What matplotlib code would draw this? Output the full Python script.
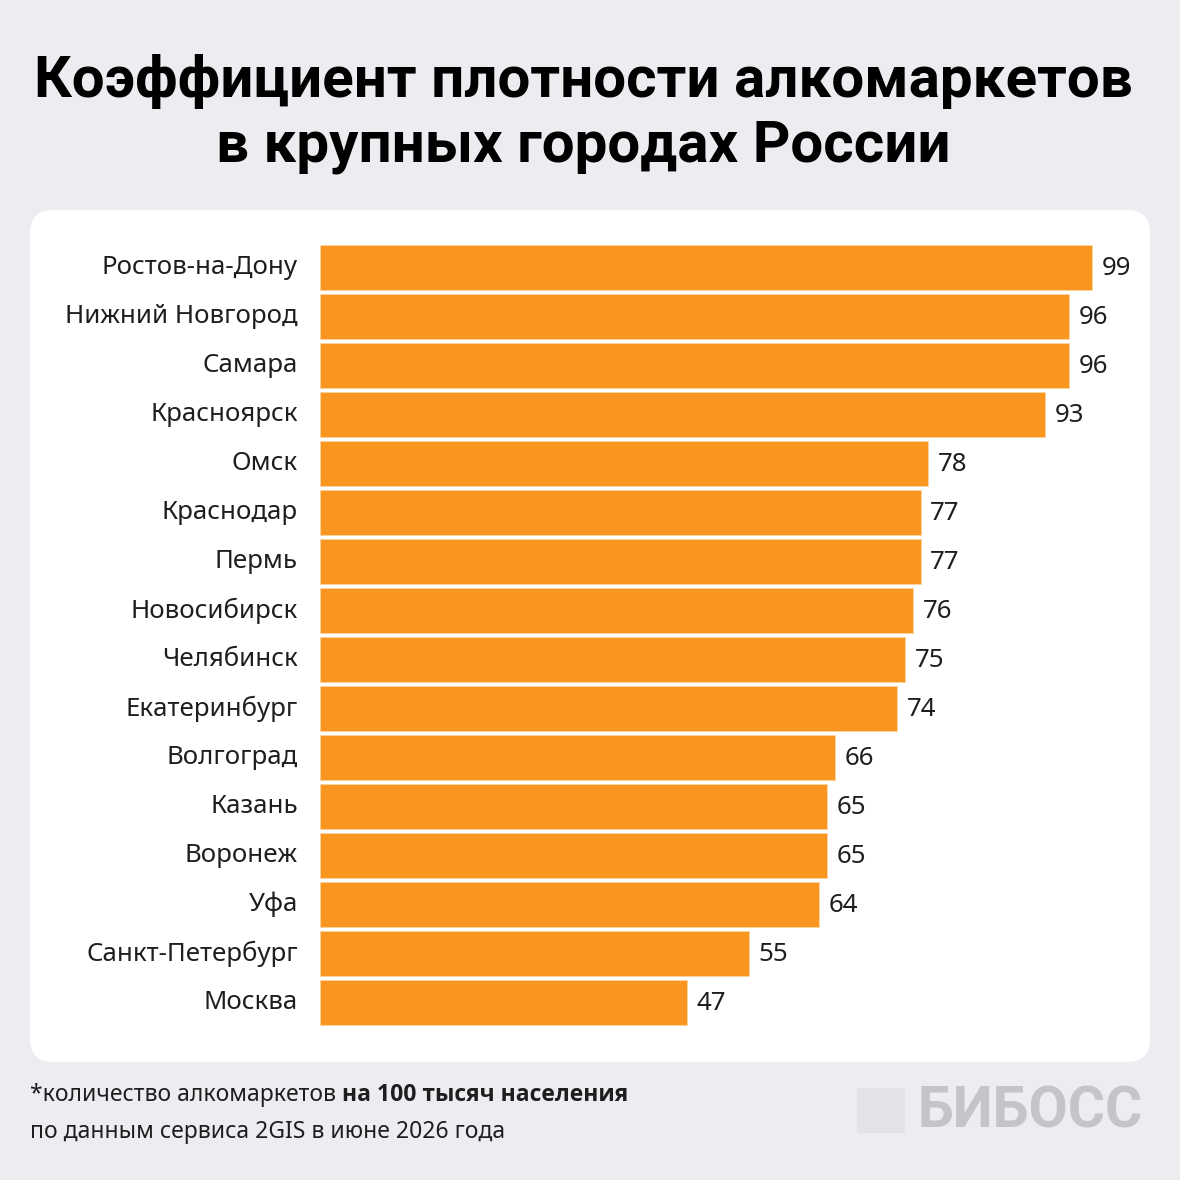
import matplotlib
matplotlib.use("Agg")
import matplotlib.pyplot as plt
from matplotlib.patches import FancyBboxPatch, Rectangle

cities = ["Ростов-на-Дону", "Нижний Новгород", "Самара", "Красноярск", "Омск",
          "Краснодар", "Пермь", "Новосибирск", "Челябинск", "Екатеринбург",
          "Волгоград", "Казань", "Воронеж", "Уфа", "Санкт-Петербург", "Москва"]
values = [99, 96, 96, 93, 78, 77, 77, 76, 75, 74, 66, 65, 65, 64, 55, 47]

title = "Коэффициент плотности алкомаркетов\nв крупных городах России"
note_plain = "*количество алкомаркетов "
note_bold = "на 100 тысяч населения"
note_line2 = "по данным сервиса 2GIS в июне 2026 года"
brand = "БИБОСС"

BG = "#ECEDF1"
BAR = "#F8961F"
W = H = 1180

plt.rcParams['font.family'] = ['Noto Sans', 'DejaVu Sans']

fig = plt.figure(figsize=(11.8, 11.8), dpi=100, facecolor=BG)

def fx(px):
    return px / W

def fy(py):
    return 1 - py / H

# white rounded panel
panel = FancyBboxPatch((fx(30), fy(1062)), fx(1120), (1062 - 210) / H,
                       boxstyle="round,pad=0,rounding_size=0.02",
                       transform=fig.transFigure, facecolor="white",
                       edgecolor="none", zorder=0)
fig.add_artist(panel)

# bars
ax = fig.add_axes([fx(320), fy(1027), fx(830), (1027 - 243) / H])
ax.set_facecolor("none")
y = list(range(len(cities)))
ax.barh(y, values, height=0.9, color=BAR, edgecolor="#FBD3A4", linewidth=0.6)
ax.set_xlim(0, 830 / 7.8)
ax.set_ylim(len(cities) - 0.5, -0.5)
for s in ax.spines.values():
    s.set_visible(False)
ax.set_xticks([])
ax.set_yticks(y)
ax.set_yticklabels(cities, fontsize=18.6, color="#1e1e1e", va="center")
ax.tick_params(axis="y", length=0, pad=16)
for yi, v in zip(y, values):
    ax.annotate(str(v), (v, yi), xytext=(7, -1), textcoords="offset points",
                va="center", ha="left", fontsize=18.6, color="#1e1e1e")

# title
fig.text(fx(583), fy(114), title, ha="center", va="center", fontsize=42,
         fontweight="bold", family="Roboto", color="black", linespacing=1.22)

# footnote (bold part placed right after the plain part)
t1 = fig.text(fx(30), fy(1095), note_plain, ha="left", va="center",
              fontsize=16.5, color="#1e1e1e")
ax_note = fig.add_axes([0, 0, 1, 1], facecolor="none")
ax_note.axis("off")
ax_note.annotate(note_bold, xy=(1, 0), xycoords=t1, va="bottom", ha="left",
                 fontsize=16.5, fontweight="bold", family="Open Sans",
                 color="#1e1e1e")
fig.text(fx(30), fy(1132), note_line2, ha="left", va="center",
         fontsize=16.5, color="#1e1e1e")

# logo
fig.add_artist(Rectangle((fx(857), fy(1133)), fx(48), 45 / H,
                         transform=fig.transFigure, facecolor="#E2E3E7",
                         edgecolor="none"))
fig.text(fx(918), fy(1112), brand, ha="left", va="center", fontsize=41,
         fontweight="bold", family="Roboto", color="#C4C5C9")

fig.savefig("out.png", dpi=100, facecolor=BG)
